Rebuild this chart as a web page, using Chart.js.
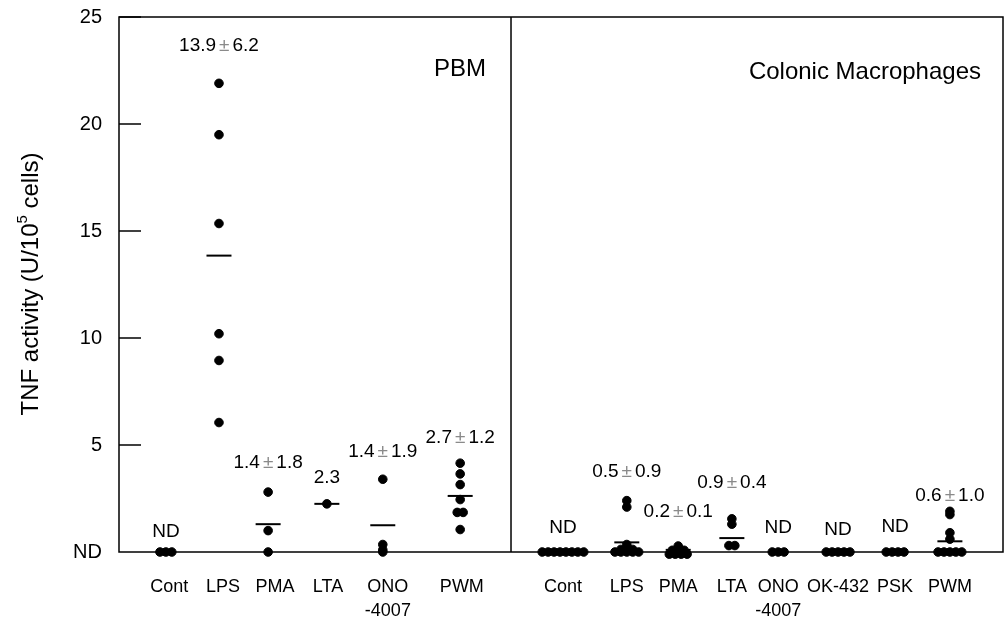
<!DOCTYPE html>
<html>
<head>
<meta charset="utf-8">
<script src="https://cdn.jsdelivr.net/npm/chart.js@4"></script>
<style>
html, body { margin: 0; padding: 0; background: #fff; overflow: hidden; }
#wrap { width: 1005px; height: 618px; position: relative; }
canvas { display: block; }
</style>
</head>
<body>
<div id="wrap"><canvas id="chart"></canvas></div>
<script>
// PBM panel
const pbmLabels = ['Cont', 'LPS', 'PMA', 'LTA', 'ONO\n-4007', 'PWM'];
const pbmCont = [0, 0, 0];
const pbmLps = [21.9, 19.5, 15.35, 10.2, 8.95, 6.05];
const pbmPma = [2.8, 1.0, 0];
const pbmLta = [2.25];
const pbmOno = [3.4, 0.35, 0.1, 0];
const pbmPwm = [4.15, 3.65, 3.15, 2.45, 1.85, 1.85, 1.05];
const pbmMeans = [null, 13.85, 1.3, 2.25, 1.25, 2.62];
const pbmNotes = ['ND', '13.9±6.2', '1.4±1.8', '2.3', '1.4±1.9', '2.7±1.2'];

// Colonic macrophage panel
const cmLabels = ['Cont', 'LPS', 'PMA', 'LTA', 'ONO\n-4007', 'OK-432', 'PSK', 'PWM'];
const cmCont = [0, 0, 0, 0, 0, 0, 0, 0];
const cmLps = [2.4, 2.1, 0.35, 0.12, 0.12, 0.12, 0, 0, 0, 0, 0];
const cmPma = [0.28, 0.08, 0.08, 0.08, -0.1, -0.1, -0.1, -0.1];
const cmLta = [1.55, 1.3, 0.3, 0.3];
const cmOno = [0, 0, 0];
const cmOk = [0, 0, 0, 0, 0];
const cmPsk = [0, 0, 0, 0];
const cmPwm = [1.9, 1.75, 0.9, 0.6, 0, 0, 0, 0, 0];
const cmMeans = [null, 0.45, 0.1, 0.65, null, null, null, 0.5];
const cmNotes = ['ND', '0.5±0.9', '0.2±0.1', '0.9±0.4', 'ND', 'ND', 'ND', '0.6±1.0'];

const yTicks = [0, 5, 10, 15, 20, 25];
const yTickLabels = ['ND', '5', '10', '15', '20', '25'];

// layout, in x-axis units (one unit is roughly one group step) / pixels
const pbmSlots = [0.83, 1.77, 2.64, 3.68, 4.67, 6.04];
const pbmTickAt = [0.89, 1.84, 2.76, 3.70, 4.76, 6.07];
const cmSlots = [7.86, 8.99, 9.90, 10.85, 11.67, 12.73, 13.74, 14.71];
const panelSplit = 6.94;
const xMax = 15.65;
const dotGap = 0.105;
const pbmNoteLift = [20, 38, 29, 26, 27, 25];
const cmNoteLift = [24, 29, 34, 36, 24, 22, 25, 16];

const FONT = '"Liberation Sans", Arial, sans-serif';

const pbmValues = [pbmCont, pbmLps, pbmPma, pbmLta, pbmOno, pbmPwm];
const cmValues = [cmCont, cmLps, cmPma, cmLta, cmOno, cmOk, cmPsk, cmPwm];

const groups = [];
pbmLabels.forEach((label, i) => {
    groups.push({ label, x: pbmSlots[i], tick: pbmTickAt[i], values: pbmValues[i], mean: pbmMeans[i], note: pbmNotes[i], lift: pbmNoteLift[i] });
});
cmLabels.forEach((label, i) => {
    groups.push({ label, x: cmSlots[i], tick: cmSlots[i], values: cmValues[i], mean: cmMeans[i], note: cmNotes[i], lift: cmNoteLift[i] });
});

// equal values sit side by side
const dots = [];
groups.forEach((g) => {
    const bins = new Map();
    g.values.forEach((v) => {
        const key = v.toFixed(2);
        if (!bins.has(key)) bins.set(key, []);
        bins.get(key).push(v);
    });
    bins.forEach((list) => {
        list.forEach((v, k) => {
            dots.push({ x: g.x + (k - (list.length - 1) / 2) * dotGap, y: v });
        });
    });
});

const meanPoints = groups.filter((g) => g.mean !== null).map((g) => ({ x: g.x, y: g.mean }));

const drawLine = (ctx, x1, y1, x2, y2) => {
    ctx.beginPath();
    ctx.moveTo(x1, y1);
    ctx.lineTo(x2, y2);
    ctx.stroke();
};

const decor = {
    id: 'decor',
    afterDatasetsDraw(chart) {
        const { ctx, chartArea: a, scales: { x, y } } = chart;
        ctx.save();
        ctx.strokeStyle = '#000';
        ctx.lineWidth = 1.5;
        ctx.strokeRect(a.left, a.top, a.right - a.left, a.bottom - a.top);
        const split = x.getPixelForValue(panelSplit);
        drawLine(ctx, split, a.top, split, a.bottom);
        yTicks.forEach((v) => {
            if (v === 0) return;
            const py = y.getPixelForValue(v);
            drawLine(ctx, a.left, py, a.left + 22, py);
        });

        // group notes
        ctx.font = '19px ' + FONT;
        ctx.textBaseline = 'middle';
        ctx.textAlign = 'left';
        groups.forEach((g) => {
            if (!g.note) return;
            const top = Math.max(...g.values);
            const cx = x.getPixelForValue(g.x);
            const cy = y.getPixelForValue(top) - g.lift;
            const parts = g.note.split('±');
            ctx.fillStyle = '#000';
            if (parts.length === 1) {
                const w = ctx.measureText(parts[0]).width;
                ctx.fillText(parts[0], cx - w / 2, cy);
                return;
            }
            const gap = 3;
            const w1 = ctx.measureText(parts[0]).width;
            const wp = ctx.measureText('±').width;
            const w2 = ctx.measureText(parts[1]).width;
            let px = cx - (w1 + wp + w2 + gap * 2) / 2;
            ctx.fillText(parts[0], px, cy);
            px += w1 + gap;
            ctx.fillStyle = '#8a8a8a';
            ctx.fillText('±', px, cy);
            px += wp + gap;
            ctx.fillStyle = '#000';
            ctx.fillText(parts[1], px, cy);
        });

        // panel titles
        ctx.fillStyle = '#000';
        ctx.font = '24px ' + FONT;
        ctx.textAlign = 'right';
        ctx.fillText('PBM', split - 25, 69);
        ctx.fillText('Colonic Macrophages', a.right - 22, 72);

        // y title with superscript
        ctx.translate(31, 284);
        ctx.rotate(-Math.PI / 2);
        const big = '24px ' + FONT;
        const small = '15px ' + FONT;
        const t1 = 'TNF activity (U/10';
        const t2 = '5';
        const t3 = ' cells)';
        ctx.font = big;
        const w1 = ctx.measureText(t1).width;
        const w3 = ctx.measureText(t3).width;
        ctx.font = small;
        const w2 = ctx.measureText(t2).width;
        let tx = -(w1 + w2 + w3) / 2;
        ctx.textAlign = 'left';
        ctx.font = big;
        ctx.fillText(t1, tx, 0);
        tx += w1;
        ctx.font = small;
        ctx.fillText(t2, tx, -8);
        tx += w2;
        ctx.font = big;
        ctx.fillText(t3, tx, 0);
        ctx.restore();
    },
};

const tickPositions = groups.map((g) => g.tick);

new Chart(document.getElementById('chart').getContext('2d'), {
    type: 'scatter',
    data: {
        datasets: [
            {
                data: dots,
                backgroundColor: '#000',
                borderColor: '#000',
                pointRadius: 4.3,
                pointHoverRadius: 4.3,
                clip: false,
            },
            {
                data: meanPoints,
                pointStyle: 'line',
                borderColor: '#000',
                borderWidth: 2,
                pointRadius: 12.5,
                pointHoverRadius: 12.5,
                clip: false,
            },
        ],
    },
    options: {
        responsive: true,
        maintainAspectRatio: false,
        animation: false,
        events: [],
        layout: { autoPadding: false, padding: { top: 17, right: 2, left: 0, bottom: 0 } },
        plugins: {
            legend: { display: false },
            tooltip: { enabled: false },
        },
        scales: {
            x: {
                type: 'linear',
                min: 0,
                max: xMax,
                grid: { display: false, drawTicks: false },
                border: { display: false },
                afterBuildTicks: (scale) => {
                    scale.ticks = tickPositions.map((v) => ({ value: v }));
                },
                afterFit: (scale) => {
                    scale.height = 66;
                    scale.paddingLeft = 0;
                    scale.paddingRight = 0;
                },
                ticks: {
                    autoSkip: false,
                    maxRotation: 0,
                    padding: 23,
                    color: '#000',
                    font: { family: FONT, size: 18, lineHeight: 1.35 },
                    callback: (v) => {
                        const idx = tickPositions.findIndex((p) => Math.abs(p - v) < 1e-6);
                        return idx < 0 ? '' : groups[idx].label.split('\n');
                    },
                },
            },
            y: {
                min: 0,
                max: 25,
                grid: { display: false, drawTicks: false },
                border: { display: false },
                afterBuildTicks: (scale) => {
                    scale.ticks = yTicks.map((v) => ({ value: v }));
                },
                afterFit: (scale) => {
                    scale.width = 119;
                    scale.paddingTop = 0;
                    scale.paddingBottom = 0;
                },
                ticks: {
                    padding: 17,
                    color: '#000',
                    font: { family: FONT, size: 20 },
                    callback: (v) => yTickLabels[yTicks.indexOf(v)] ?? '',
                },
            },
        },
    },
    plugins: [decor],
});
</script>
</body>
</html>
